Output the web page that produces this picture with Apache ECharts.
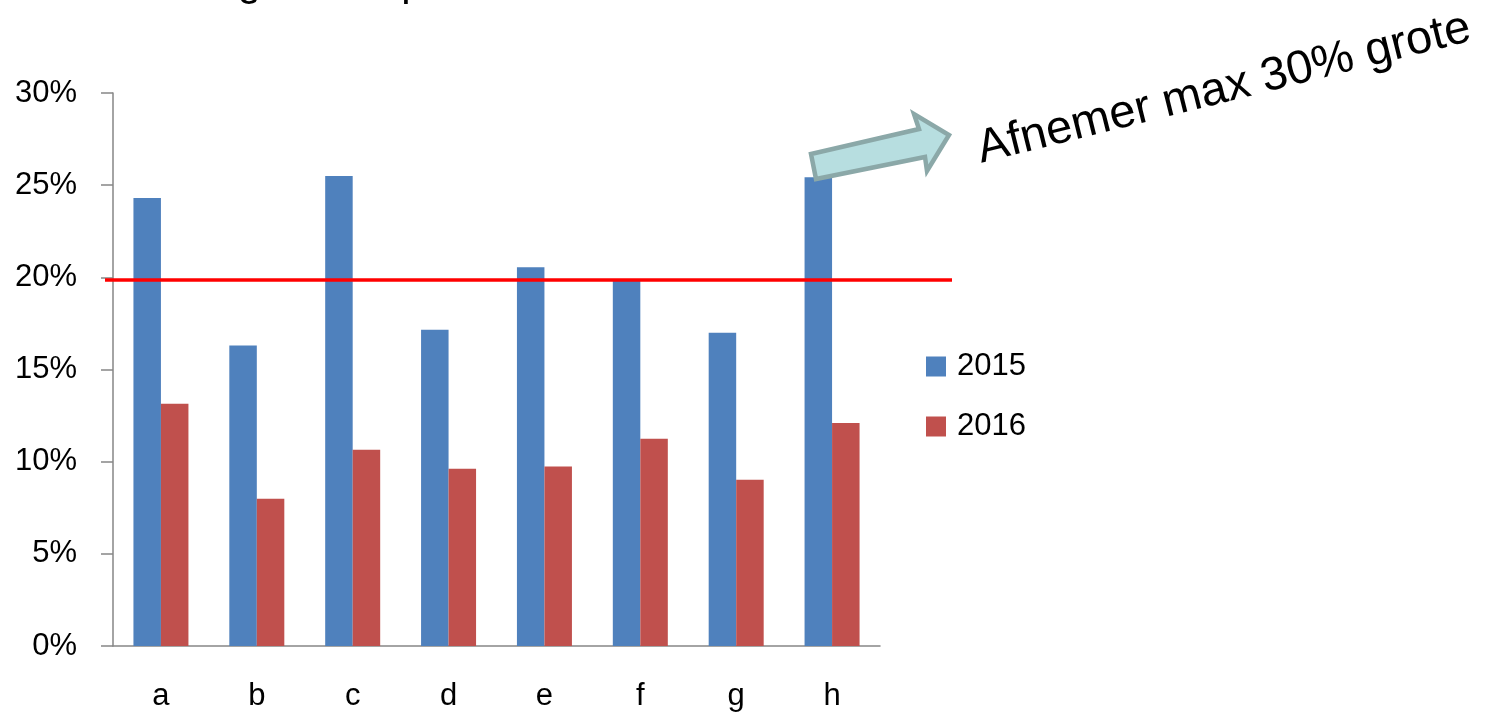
<!DOCTYPE html>
<html>
<head>
<meta charset="utf-8">
<script src="https://cdn.jsdelivr.net/npm/echarts@6/dist/echarts.min.js"></script>
<style>
  html, body { margin: 0; padding: 0; background: #fff; }
  #chart { width: 1488px; height: 712px; }
</style>
</head>
<body>
<div id="chart"></div>
<script>
// gegevens
const categories = ["a", "b", "c", "d", "e", "f", "g", "h"];
const values2015 = [0.243, 0.163, 0.255, 0.1715, 0.2055, 0.199, 0.170, 0.2543];
const values2016 = [0.1314, 0.0799, 0.1064, 0.0962, 0.0974, 0.1124, 0.0902, 0.121];
const limitLine = [0.1987, 0.1987]; // rode grens (20%)
const yMin = 0;
const yMax = 0.3;
const yStep = 0.05;

const font = "Liberation Sans, Arial, sans-serif";

const option = {
  animation: false,
  backgroundColor: "#fff",
  color: ["#4f81bd", "#c0504d"],
  grid: [
    { left: 113, right: 608, top: 93, bottom: 65.5 },
    // tweede grid alleen voor de rode lijn, die loopt verder door dan de as
    { left: 105, right: 536, top: 93, bottom: 65.5 },
  ],
  legend: {
    orient: "vertical",
    left: 921,
    top: 346,
    icon: "rect",
    itemWidth: 20,
    itemHeight: 20,
    itemGap: 29,
    data: ["2015", "2016"],
    textStyle: {
      fontFamily: font,
      fontSize: 31,
      color: "#000",
      padding: [0, 0, 0, 6],
    },
  },
  xAxis: [
    {
      type: "category",
      gridIndex: 0,
      data: categories,
      axisLine: { lineStyle: { color: "#868686", width: 1.5 } },
      axisTick: { length: 12, lineStyle: { color: "#868686", width: 1.5 } },
      axisLabel: {
        //categorie letters
        margin: 35,
        fontFamily: font,
        fontSize: 31,
        color: "#000",
      },
    },
    { type: "value", gridIndex: 1, min: 0, max: 1, show: false },
  ],
  yAxis: [
    {
      type: "value",
      gridIndex: 0,
      min: yMin,
      max: yMax,
      interval: yStep,
      splitLine: { show: false },
      axisLine: { show: true, lineStyle: { color: "#868686", width: 1.5 } },
      axisTick: { show: true, length: 12, lineStyle: { color: "#868686", width: 1.5 } },
      axisLabel: {
        margin: 36,
        fontFamily: font,
        fontSize: 31,
        color: "#000",
        formatter: (v) => Math.round(v * 100) + "%",
      },
    },
    { type: "value", gridIndex: 1, min: yMin, max: yMax, show: false },
  ],
  series: [
    {
      name: "2015",
      type: "bar",
      data: values2015,
      barWidth: 27.5,
      barGap: 0,
    },
    {
      name: "2016",
      type: "bar",
      data: values2016,
      barWidth: 27.5,
      barGap: 0,
    },
    {
      name: "grens",
      type: "line",
      xAxisIndex: 1,
      yAxisIndex: 1,
      data: [
        [0, limitLine[0]],
        [1, limitLine[1]],
      ],
      symbol: "none",
      z: 5,
      lineStyle: { color: "#ff0000", width: 3.5 },
    },
  ],
  graphic: [
    {
      // afgesneden titel, alleen de onderkant is zichtbaar
      type: "text",
      x: 72,
      y: -17,
      style: {
        text: "Aandeel grootste partner",
        font: "42px " + font,
        fill: "#000",
        verticalAlign: "middle",
      },
    },
    {
      type: "polygon",
      shape: {
        points: [
          [811, 154],
          [919, 129],
          [914, 114],
          [949, 135],
          [927, 171],
          [925, 157],
          [816, 179],
        ],
      },
      style: { fill: "#b7dee0", stroke: "#8ba8a8", lineWidth: 4.5 },
      z: 10,
    },
    {
      type: "text",
      x: 1224,
      y: 89,
      rotation: (14 * Math.PI) / 180,
      style: {
        text: "Afnemer max 30% grote",
        font: "47px " + font,
        fill: "#000",
        align: "center",
        verticalAlign: "middle",
      },
    },
  ],
};

let myChart = echarts.init(document.getElementById("chart"));
myChart.setOption(option);
</script>
</body>
</html>
